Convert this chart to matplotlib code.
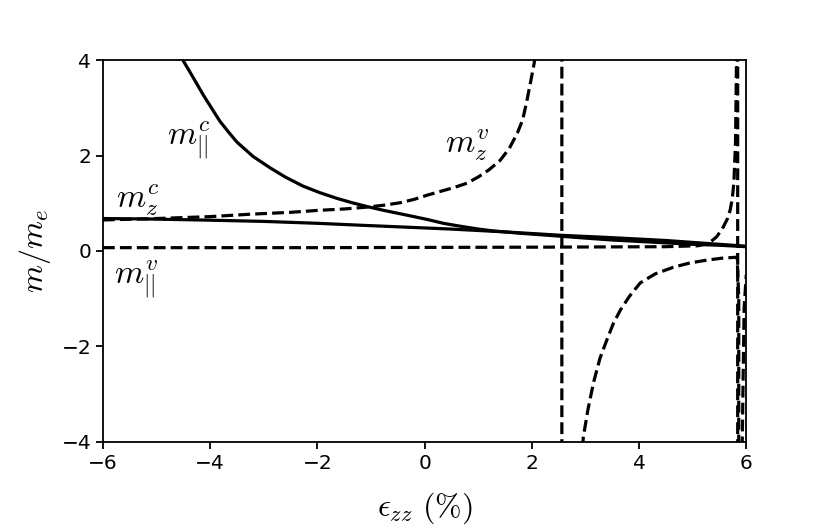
import matplotlib
matplotlib.use("Agg")
import matplotlib.pyplot as plt

plt.rcParams['mathtext.fontset'] = 'cm'

# m_par^c (solid)
mpc_x = [-4.6, -4.51, -4.3, -4.13, -3.95, -3.82, -3.65, -3.5, -3.2, -2.88, -2.6, -2.27, -1.95,
         -1.63, -1.35, -1.07, -0.8, -0.5, -0.2, 0.05, 0.35, 0.66, 1.0, 1.28, 1.8, 2.53, 3.0,
         3.5, 4.0, 4.5, 5.0, 5.5, 6.0]
mpc_y = [4.2, 4.0, 3.6, 3.27, 2.95, 2.72, 2.48, 2.28, 1.98, 1.74, 1.55, 1.36, 1.22,
         1.10, 1.01, 0.93, 0.86, 0.79, 0.72, 0.66, 0.58, 0.52, 0.46, 0.42, 0.37, 0.31, 0.27,
         0.23, 0.20, 0.17, 0.14, 0.12, 0.09]

# m_z^c (solid)
mzc_x = [-6.0, -5.12, -4.0, -3.0, -2.0, -1.2, 0.48, 1.5, 2.53, 3.3, 4.0, 4.5, 5.0, 5.5, 6.0]
mzc_y = [0.68, 0.67, 0.645, 0.62, 0.58, 0.54, 0.46, 0.40, 0.33, 0.29, 0.25, 0.22, 0.18, 0.14, 0.10]

# m_z^v (dashed)
mzv_x = [-6.0, -5.0, -4.0, -3.26, -2.5, -2.0, -1.5, -1.07, -0.75, -0.46, -0.2, 0.05, 0.3, 0.55,
         0.79, 1.0, 1.2, 1.41, 1.58, 1.73, 1.83, 1.91, 1.97, 2.03, 2.07, 2.2, 2.56,
         2.56, 2.85, 2.96, 3.05, 3.15, 3.27, 3.40, 3.52, 3.65, 3.82, 4.02, 4.3, 4.64, 4.95,
         5.27, 5.55, 5.83, 5.86, 5.87]
mzv_y = [0.65, 0.68, 0.72, 0.77, 0.81, 0.85, 0.88, 0.92, 0.96, 1.01, 1.08, 1.17, 1.25, 1.33,
         1.42, 1.55, 1.70, 1.9, 2.15, 2.47, 2.75, 3.16, 3.5, 3.85, 4.1, 6.0, 1000.0,
         -1000.0, -6.0, -3.9, -3.3, -2.76, -2.25, -1.86, -1.52, -1.24, -0.95, -0.67, -0.48, -0.34, -0.25,
         -0.19, -0.15, -0.13, -1.0, -1000.0]

# m_par^v (dashed)
mpv_x = [-6.0, -2.0, 2.0, 4.5, 5.1, 5.3, 5.45, 5.57, 5.65, 5.70, 5.74, 5.77, 5.80, 5.82, 5.84,
         5.84, 5.90, 5.96, 6.0]
mpv_y = [0.07, 0.07, 0.08, 0.09, 0.11, 0.16, 0.30, 0.50, 0.68, 0.86, 1.10, 1.45, 2.3, 4.2, 1000.0,
         -1000.0, -6.0, -1.2, -0.5]

fig = plt.figure(figsize=(8.29, 5.32), dpi=100)
ax = fig.add_axes([0.1242, 0.1692, 0.7760, 0.7180])

lw = 2.3
ax.plot(mpc_x, mpc_y, color='black', lw=lw, ls='-')
ax.plot(mzc_x, mzc_y, color='black', lw=lw, ls='-')
ax.plot(mzv_x, mzv_y, color='black', lw=lw, ls='--')
ax.plot(mpv_x, mpv_y, color='black', lw=lw, ls='--')

ax.set_xlim(-6, 6)
ax.set_ylim(-4, 4)
ax.set_xticks([-6, -4, -2, 0, 2, 4, 6])
ax.set_yticks([-4, -2, 0, 2, 4])
ax.tick_params(labelsize=14.5, width=1.3, length=5)
for s in ax.spines.values():
    s.set_linewidth(1.3)

ax.set_xlabel(r'$\epsilon_{zz}\ (\%)$', fontsize=23, labelpad=13)
ax.set_ylabel(r'$m/m_e$', fontsize=23, labelpad=6)

ax.text(-4.41, 2.32, r'$m_{||}^{c}$', fontsize=24, ha='center', va='center')
ax.text(-5.35, 1.07, r'$m_{z}^{c}$', fontsize=24, ha='center', va='center')
ax.text(-5.38, -0.6, r'$m_{||}^{v}$', fontsize=24, ha='center', va='center')
ax.text(0.79, 2.22, r'$m_{z}^{v}$', fontsize=24, ha='center', va='center')

fig.savefig('out.png', dpi=100)
